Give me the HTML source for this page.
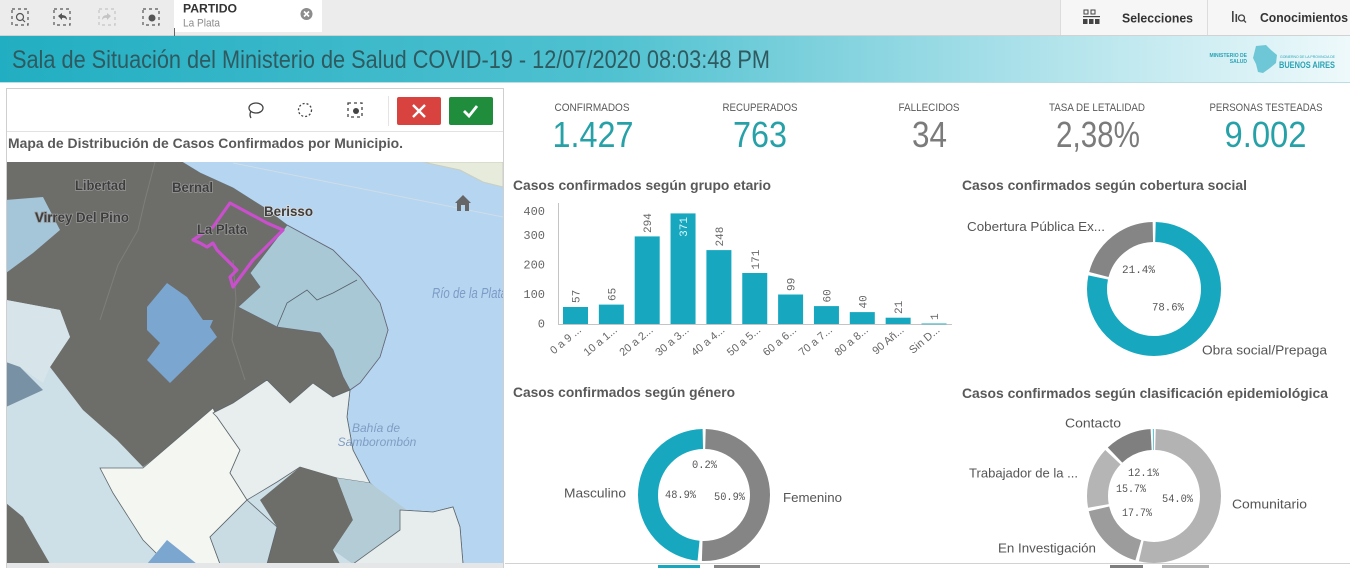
<!DOCTYPE html>
<html><head><meta charset="utf-8">
<style>
html,body{margin:0;padding:0;background:#fff;}
body{width:1350px;height:568px;overflow:hidden;}
svg{display:block;font-family:"Liberation Sans",sans-serif;}
</style></head>
<body>
<svg width="1350" height="568" viewBox="0 0 1350 568" xmlns="http://www.w3.org/2000/svg">
<defs>
<linearGradient id="hdr" x1="0" y1="0" x2="1" y2="0">
<stop offset="0" stop-color="#22aec2"/>
<stop offset="0.45" stop-color="#4fc1d0"/>
<stop offset="0.75" stop-color="#a9e0e9"/>
<stop offset="1" stop-color="#eef9fb"/>
</linearGradient>
<clipPath id="mapclip"><rect x="7" y="162" width="496" height="401"/></clipPath>
</defs>

<!-- top bar -->
<rect x="0" y="0" width="1350" height="35" fill="#ececec"/>
<rect x="1060" y="0" width="290" height="35" fill="#f6f6f6"/>
<line x1="0" y1="35.5" x2="1350" y2="35.5" stroke="#d2d2d2"/>
<line x1="1060.5" y1="0" x2="1060.5" y2="35" stroke="#dcdcdc"/>
<line x1="1207.5" y1="0" x2="1207.5" y2="35" stroke="#dcdcdc"/>
<g fill="none" stroke="#555" stroke-width="1.2">
<rect x="12" y="9" width="16" height="16" stroke-dasharray="3 3"/>
<circle cx="20" cy="17" r="3.5"/><line x1="22.5" y1="19.5" x2="25" y2="22"/>
<rect x="54" y="9" width="16" height="16" stroke-dasharray="3 3"/>
<path d="M58 16 L62 13 L62 15 Q67 15 67 20 Q65 17 62 18 L62 20 Z" fill="#555" stroke="none"/>
<rect x="99" y="9" width="16" height="16" stroke-dasharray="3 3" stroke="#c4c4c4"/>
<path d="M111 16 L107 13 L107 15 Q102 15 102 20 Q104 17 107 18 L107 20 Z" fill="#c4c4c4" stroke="none"/>
<rect x="143" y="9" width="16" height="16" stroke-dasharray="3 3"/>
</g>
<circle cx="152" cy="18" r="3.5" fill="#555"/>
<rect x="174" y="0" width="148" height="32" fill="#fff"/>
<line x1="174.5" y1="28" x2="174.5" y2="36" stroke="#666"/>
<text x="183" y="12.5" font-size="12" font-weight="bold" fill="#333" textLength="54" lengthAdjust="spacingAndGlyphs">PARTIDO</text>
<text x="183" y="26.5" font-size="11" fill="#8a8a8a" textLength="37" lengthAdjust="spacingAndGlyphs">La Plata</text>
<circle cx="306.5" cy="14" r="6" fill="#8c8c8c"/>
<path d="M304 11.5 L309 16.5 M309 11.5 L304 16.5" stroke="#fff" stroke-width="1.6"/>
<g fill="#444">
<rect x="1084" y="10" width="4" height="4" fill="none" stroke="#444" stroke-width="1"/>
<rect x="1091" y="10" width="4" height="4" fill="none" stroke="#444" stroke-width="1"/>
<rect x="1083" y="16" width="17" height="1.2"/>
<rect x="1083" y="19" width="4.5" height="5"/><rect x="1089" y="19" width="4.5" height="5"/><rect x="1095" y="19" width="4.5" height="5"/>
</g>
<text x="1122" y="22.5" font-size="12.5" font-weight="bold" fill="#333" textLength="71" lengthAdjust="spacingAndGlyphs">Selecciones</text>
<g fill="#444"><rect x="1232" y="11" width="1.6" height="11"/><rect x="1235.5" y="14" width="1.6" height="8"/></g>
<circle cx="1241.5" cy="18" r="3" fill="none" stroke="#444" stroke-width="1.3"/>
<line x1="1243.5" y1="20" x2="1246" y2="22.5" stroke="#444" stroke-width="1.3"/>
<text x="1260" y="22" font-size="12.5" font-weight="bold" fill="#333" textLength="88" lengthAdjust="spacingAndGlyphs">Conocimientos</text>

<!-- header band -->
<rect x="0" y="36" width="1350" height="46" fill="url(#hdr)"/>
<line x1="0" y1="82.5" x2="1350" y2="82.5" stroke="#b9dfe5"/>
<text x="12" y="68" font-size="25" fill="#2e5a60" textLength="758" lengthAdjust="spacingAndGlyphs">Sala de Situación del Ministerio de Salud COVID-19 - 12/07/2020 08:03:48 PM</text>
<text x="1247" y="57" font-size="5" font-weight="bold" fill="#2aa3b5" text-anchor="end">MINISTERIO DE</text>
<text x="1247" y="63" font-size="5" font-weight="bold" fill="#2aa3b5" text-anchor="end">SALUD</text>
<path d="M1256 46 L1266 45 L1271 50 L1277 55 L1276 63 L1270 68 L1263 73 L1258 72 L1256 64 L1253 58 Z" fill="#6ec7d6"/>
<text x="1280" y="58" font-size="4" fill="#2aa3b5" textLength="55" lengthAdjust="spacingAndGlyphs">GOBIERNO DE LA PROVINCIA DE</text>
<text x="1279" y="68" font-size="9" font-weight="bold" fill="#2aa3b5" textLength="56" lengthAdjust="spacingAndGlyphs">BUENOS AIRES</text>

<!-- map panel -->
<rect x="6.5" y="88.5" width="497" height="482" fill="#fff" stroke="#cfcfcf"/>
<line x1="7" y1="131.5" x2="503" y2="131.5" stroke="#e2e2e2"/>
<line x1="388.5" y1="96" x2="388.5" y2="126" stroke="#e4e4e4"/>
<g fill="none" stroke="#444" stroke-width="1.3">
<ellipse cx="256" cy="108" rx="7" ry="5"/><path d="M251 111 Q249 115 251 118"/>
<circle cx="305" cy="110" r="6.5" stroke-dasharray="2 2"/>
<rect x="348" y="103" width="14" height="14" stroke-dasharray="3 3"/>
</g>
<circle cx="356" cy="111" r="3" fill="#444"/>
<rect x="397" y="97" width="44" height="28" rx="2" fill="#d8423f"/>
<path d="M413 105 L425 117 M425 105 L413 117" stroke="#fff" stroke-width="2.4"/>
<rect x="449" y="97" width="44" height="28" rx="2" fill="#1f8d3b"/>
<path d="M464 111 L469 116 L477 106" stroke="#fff" stroke-width="2.8" fill="none"/>
<text x="8" y="148" font-size="14" font-weight="bold" fill="#595959" textLength="395" lengthAdjust="spacingAndGlyphs">Mapa de Distribución de Casos Confirmados por Municipio.</text>

<!-- map -->
<g clip-path="url(#mapclip)">
<rect x="7" y="162" width="496" height="402" fill="#b6d5f0"/>
<line x1="233" y1="163" x2="503" y2="217" stroke="#cfdde8" stroke-width="1"/>
<polygon points="423,162 503,162 503,187 483,182 460,170" fill="#e7ebdb" stroke="#c9cfc0"/>
<polygon points="182,162 200,173 233,188 263,207 287,225 333,250 360,277 380,303 388,330 380,357 360,383 350,390 347,417 353,450 370,483 400,510 433,512 453,507 460,527 463,564 6,564 6,162" fill="#cddfe7" stroke="#66727a" stroke-width="0.8"/>
<polygon points="287,225 333,250 360,277 380,303 388,330 380,357 360,383 350,390 343,377 333,350 320,333 277,327 238,307 260,287 250,273" fill="#a8c8d6" stroke="#667" stroke-width="0.8"/>
<polyline points="277,327 287,303 307,290 317,300 333,293 357,280" fill="none" stroke="#55606a" stroke-width="0.8"/>
<polygon points="6,162 182,162 200,173 233,188 263,207 287,225 250,273 260,287 238,307 277,327 320,333 333,350 343,377 350,390 333,397 313,383 290,403 267,380 233,403 213,413 187,433 143,467 117,440 83,410 50,367 70,337 60,310 6,300" fill="#6d6d6a"/>
<polygon points="6,200 43,197 60,230 33,253 6,273" fill="#a5c6d8"/>
<polygon points="6,300 60,310 70,337 50,367 43,383 20,367 6,362" fill="#d7e5ea"/>
<polygon points="6,362 20,367 43,390 6,407" fill="#7891a4"/>
<polygon points="147,307 167,283 187,297 203,320 213,320 210,327 217,337 170,383 147,360 160,343 147,330" fill="#7ba6cf"/>
<polygon points="100,468 143,468 213,408 217,417 240,450 230,473 247,500 210,537 220,564 167,564 143,540 113,493" fill="#f4f6f1" stroke="#5e676d" stroke-width="0.8"/>
<polygon points="213,413 233,403 267,380 290,403 313,383 333,397 350,390 347,417 353,450 370,483 337,478 300,467 277,482 247,500 230,473 240,450 217,417" fill="#e8eeee" stroke="#5e676d" stroke-width="0.8"/>
<polygon points="6,503 23,517 50,564 6,564" fill="#6d6d6a"/>
<polygon points="260,500 300,467 337,478 353,520 333,550 340,564 267,564 277,527" fill="#6d6d6a"/>
<polygon points="337,478 370,483 407,510 400,530 353,564 333,550 353,520" fill="#b4ccd6"/>
<polygon points="400,510 433,512 453,507 460,527 463,564 353,564 400,530" fill="#e6edec" stroke="#5e676d" stroke-width="0.8"/>
<polygon points="147,564 167,540 197,564" fill="#7ba6cf"/>
<polygon points="210,537 247,500 277,527 267,564 220,564" fill="#c9dbe3" stroke="#5e676d" stroke-width="0.8"/>
<polyline points="155,162 145,200 138,230 118,265 100,320" fill="none" stroke="#7e7e7a" stroke-width="1"/>
<polyline points="233,260 236,300 232,340 245,380" fill="none" stroke="#7e7e7a" stroke-width="1"/>
<polygon points="193,240 213,227 230,203 267,223 283,230 253,260 233,287 230,277 237,270 217,250 213,243 207,247 200,243" fill="none" stroke="#c94fcc" stroke-width="3.2" stroke-linejoin="round"/>
<g font-size="13.5" font-weight="bold" fill="#3d3d3d" stroke="#9a9a9a" stroke-width="1.5" paint-order="stroke">
<text x="75" y="190" textLength="51" lengthAdjust="spacingAndGlyphs">Libertad</text>
<text x="172" y="192" textLength="41" lengthAdjust="spacingAndGlyphs">Bernal</text>
<text x="35" y="222" textLength="94" lengthAdjust="spacingAndGlyphs">Virrey Del Pino</text>
<text x="264" y="216" textLength="49" lengthAdjust="spacingAndGlyphs" stroke="#ddd">Berisso</text>
<text x="197" y="234" textLength="50" lengthAdjust="spacingAndGlyphs">La Plata</text>
</g>
<text x="432" y="298" font-size="15" font-style="italic" fill="#7c9bc6" textLength="75" lengthAdjust="spacingAndGlyphs">Río de la Plata</text>
<text x="376" y="432" font-size="12" font-style="italic" fill="#7f9dc4" text-anchor="middle">Bahía de</text>
<text x="377" y="446" font-size="12" font-style="italic" fill="#7f9dc4" text-anchor="middle">Samborombón</text>
<path d="M455 203 L463 195 L471 203 L469 203 L469 211 L457 211 L457 203 Z" fill="#666"/>
<rect x="461" y="205" width="4" height="6" fill="#b6d5f0"/>
</g>
<rect x="7" y="563" width="496" height="5" fill="#e4e6e8"/>

<!-- bottom separator right -->
<line x1="505" y1="563.5" x2="1350" y2="563.5" stroke="#d2d2d2"/>
<rect x="658" y="565" width="42" height="3" fill="#17a8c0"/>
<rect x="714" y="565" width="46" height="3" fill="#858585"/>
<rect x="1110" y="565" width="33" height="3" fill="#7e7e7e"/>
<rect x="1162" y="565" width="47" height="3" fill="#b3b3b3"/>

<!-- KPIs -->
<g font-size="11" fill="#595959" text-anchor="middle">
<text x="592" y="111" textLength="75" lengthAdjust="spacingAndGlyphs">CONFIRMADOS</text>
<text x="760" y="111" textLength="75" lengthAdjust="spacingAndGlyphs">RECUPERADOS</text>
<text x="929" y="111" textLength="61" lengthAdjust="spacingAndGlyphs">FALLECIDOS</text>
<text x="1097" y="111" textLength="96" lengthAdjust="spacingAndGlyphs">TASA DE LETALIDAD</text>
<text x="1266" y="111" textLength="113" lengthAdjust="spacingAndGlyphs">PERSONAS TESTEADAS</text>
</g>
<g font-size="36" text-anchor="middle">
<text x="593" y="147" fill="#27a1a8" textLength="81" lengthAdjust="spacingAndGlyphs">1.427</text>
<text x="760" y="147" fill="#27a1a8" textLength="54" lengthAdjust="spacingAndGlyphs">763</text>
<text x="929.5" y="147" fill="#7b7b7b" textLength="35" lengthAdjust="spacingAndGlyphs">34</text>
<text x="1098" y="147" fill="#7b7b7b" textLength="84" lengthAdjust="spacingAndGlyphs">2,38%</text>
<text x="1265.5" y="147" fill="#27a1a8" textLength="82" lengthAdjust="spacingAndGlyphs">9.002</text>
</g>

<!-- chart titles -->
<g font-size="14" font-weight="bold" fill="#595959">
<text x="513" y="190" textLength="258" lengthAdjust="spacingAndGlyphs">Casos confirmados según grupo etario</text>
<text x="962" y="190" textLength="285" lengthAdjust="spacingAndGlyphs">Casos confirmados según cobertura social</text>
<text x="513" y="397" textLength="222" lengthAdjust="spacingAndGlyphs">Casos confirmados según género</text>
<text x="962" y="398" textLength="366" lengthAdjust="spacingAndGlyphs">Casos confirmados según clasificación epidemiológica</text>
</g>

<!-- bar chart -->
<line x1="558.5" y1="203" x2="558.5" y2="324" stroke="#c4c4c4"/>
<line x1="558" y1="324.5" x2="952" y2="324.5" stroke="#c4c4c4"/>
<g font-family="Liberation Mono, monospace" font-size="12" fill="#666" text-anchor="end">
<text x="545" y="215">400</text>
<text x="545" y="239">300</text>
<text x="545" y="268.5">200</text>
<text x="545" y="298">100</text>
<text x="545" y="327.5">0</text>
</g>
<g fill="#17a8c0">
<rect x="563" y="307" width="25" height="17"/>
<rect x="598.85" y="304.6" width="25" height="19.4"/>
<rect x="634.7" y="236.4" width="25" height="87.6"/>
<rect x="670.55" y="213.4" width="25" height="110.6"/>
<rect x="706.4" y="250.1" width="25" height="73.9"/>
<rect x="742.25" y="273" width="25" height="51"/>
<rect x="778.1" y="294.5" width="25" height="29.5"/>
<rect x="813.95" y="306.1" width="25" height="17.9"/>
<rect x="849.8" y="312.1" width="25" height="11.9"/>
<rect x="885.65" y="317.7" width="25" height="6.3"/>
<rect x="921.5" y="323.5" width="25" height="0.8"/>
</g>
<g font-family="Liberation Mono, monospace" font-size="11" fill="#666">
<text transform="translate(579.5,303) rotate(-90)">57</text>
<text transform="translate(615.35,301) rotate(-90)">65</text>
<text transform="translate(651.2,233) rotate(-90)">294</text>
<text transform="translate(687.05,217) rotate(-90)" text-anchor="end" fill="#dff7fb">371</text>
<text transform="translate(722.9,246.5) rotate(-90)">248</text>
<text transform="translate(758.75,269.5) rotate(-90)">171</text>
<text transform="translate(794.6,291) rotate(-90)">99</text>
<text transform="translate(830.45,302.5) rotate(-90)">60</text>
<text transform="translate(866.3,308.5) rotate(-90)">40</text>
<text transform="translate(902.15,314) rotate(-90)">21</text>
<text transform="translate(938,320) rotate(-90)">1</text>
</g>
<g font-size="11" fill="#666" text-anchor="end">
<text transform="translate(582,331) rotate(-40)">0 a 9 ...</text>
<text transform="translate(617.85,331) rotate(-40)">10 a 1...</text>
<text transform="translate(653.7,331) rotate(-40)">20 a 2...</text>
<text transform="translate(689.55,331) rotate(-40)">30 a 3...</text>
<text transform="translate(725.4,331) rotate(-40)">40 a 4...</text>
<text transform="translate(761.25,331) rotate(-40)">50 a 5...</text>
<text transform="translate(797.1,331) rotate(-40)">60 a 6...</text>
<text transform="translate(832.95,331) rotate(-40)">70 a 7...</text>
<text transform="translate(868.8,331) rotate(-40)">80 a 8...</text>
<text transform="translate(904.65,331) rotate(-40)">90 Añ...</text>
<text transform="translate(940.5,331) rotate(-40)">Sin D...</text>
</g>

<!-- donut cobertura social -->
<g transform="rotate(-90 1154 289)" fill="none" stroke-width="20">
<circle cx="1154" cy="289" r="57" stroke="#17a8c0" stroke-dasharray="278.5 400" stroke-dashoffset="-1.5"/>
<circle cx="1154" cy="289" r="57" stroke="#858585" stroke-dasharray="73.6 400" stroke-dashoffset="-283"/>
</g>
<text x="967" y="231" font-size="13" fill="#555" textLength="138" lengthAdjust="spacingAndGlyphs">Cobertura Pública Ex...</text>
<text x="1202" y="354.5" font-size="13" fill="#555" textLength="125" lengthAdjust="spacingAndGlyphs">Obra social/Prepaga</text>
<g font-family="Liberation Mono, monospace" font-size="11" fill="#555">
<text x="1122" y="273" textLength="33" lengthAdjust="spacingAndGlyphs">21.4%</text>
<text x="1152" y="310.5" textLength="32" lengthAdjust="spacingAndGlyphs">78.6%</text>
</g>

<!-- donut genero -->
<g transform="rotate(-90 704 495)" fill="none" stroke-width="20">
<circle cx="704" cy="495" r="56" stroke="#858585" stroke-dasharray="176.1 400" stroke-dashoffset="-1.5"/>
<circle cx="704" cy="495" r="56" stroke="#17a8c0" stroke-dasharray="169 400" stroke-dashoffset="-181.3"/>
</g>
<text x="564" y="497.5" font-size="13" fill="#555" textLength="62" lengthAdjust="spacingAndGlyphs">Masculino</text>
<text x="783" y="502" font-size="13" fill="#555" textLength="59" lengthAdjust="spacingAndGlyphs">Femenino</text>
<g font-family="Liberation Mono, monospace" font-size="11" fill="#555">
<text x="692" y="468" textLength="25" lengthAdjust="spacingAndGlyphs">0.2%</text>
<text x="665" y="498" textLength="31" lengthAdjust="spacingAndGlyphs">48.9%</text>
<text x="714" y="500" textLength="31" lengthAdjust="spacingAndGlyphs">50.9%</text>
</g>

<!-- donut clasificacion -->
<g transform="rotate(-90 1154 496)" fill="none" stroke-width="21">
<circle cx="1154" cy="496" r="56.5" stroke="#b3b3b3" stroke-dasharray="188.7 400" stroke-dashoffset="-1.5"/>
<circle cx="1154" cy="496" r="56.5" stroke="#9c9c9c" stroke-dasharray="59.8 400" stroke-dashoffset="-193.2"/>
<circle cx="1154" cy="496" r="56.5" stroke="#b5b5b5" stroke-dasharray="52.7 400" stroke-dashoffset="-256"/>
<circle cx="1154" cy="496" r="56.5" stroke="#7f7f7f" stroke-dasharray="40 400" stroke-dashoffset="-311.7"/>
<circle cx="1154" cy="496" r="56.5" stroke="#5cc6d6" stroke-dasharray="1 400" stroke-dashoffset="-353.6"/>
</g>
<g font-size="13" fill="#555">
<text x="1065" y="427.5" textLength="56" lengthAdjust="spacingAndGlyphs">Contacto</text>
<text x="969" y="477.5" textLength="109" lengthAdjust="spacingAndGlyphs">Trabajador de la ...</text>
<text x="1232" y="508.5" textLength="75" lengthAdjust="spacingAndGlyphs">Comunitario</text>
<text x="998" y="552.5" textLength="98" lengthAdjust="spacingAndGlyphs">En Investigación</text>
</g>
<g font-family="Liberation Mono, monospace" font-size="11" fill="#555">
<text x="1128" y="476" textLength="31" lengthAdjust="spacingAndGlyphs">12.1%</text>
<text x="1116" y="492" textLength="30" lengthAdjust="spacingAndGlyphs">15.7%</text>
<text x="1162" y="502" textLength="31" lengthAdjust="spacingAndGlyphs">54.0%</text>
<text x="1122" y="516" textLength="30" lengthAdjust="spacingAndGlyphs">17.7%</text>
</g>
</svg>
</body></html>
